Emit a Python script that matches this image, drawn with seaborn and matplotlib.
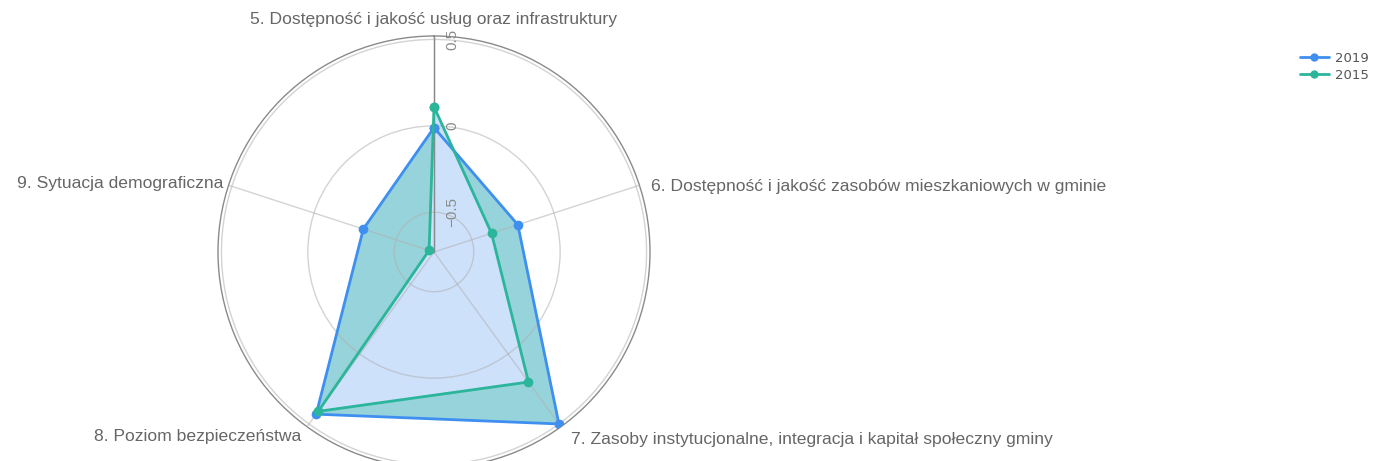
import numpy as np
import matplotlib
matplotlib.use('Agg')
import matplotlib.pyplot as plt
import matplotlib.transforms as mtransforms
from matplotlib.lines import Line2D
import seaborn as sns

# kategorie (zgodnie z ruchem wskazówek zegara od góry)
categories = [
    '5. Dostępność i jakość usług oraz infrastruktury',
    '6. Dostępność i jakość zasobów mieszkaniowych w gminie',
    '7. Zasoby instytucjonalne, integracja i kapitał społeczny gminy',
    '8. Poziom bezpieczeństwa',
    '9. Sytuacja demograficzna',
]
years = ['2019', '2015']
values_2019 = [-0.01, -0.22, 0.50, 0.43, -0.30]
values_2015 = [0.11, -0.38, 0.20, 0.41, -0.70]
radial_ticks = [-0.5, 0, 0.5]
radial_labels = ['\u22120.5', '0', '0.5']
r_min, r_max = -0.73, 0.52

blue = '#3e8ff0'
green = '#2bb59b'
light_blue = '#cde1fb'
teal_fill = '#97d3da'
text_col = '#666666'

sns.set_style('white')
plt.rcParams['font.family'] = ['Liberation Sans', 'DejaVu Sans']

W, H = 1377, 461
fig = plt.figure(figsize=(W / 100, H / 100), dpi=100)
cx, cy, R = 434, 252, 216
ax = fig.add_axes([(cx - R) / W, (H - cy - R) / H, 2 * R / W, 2 * R / H], projection='polar')
ax.set_theta_zero_location('N')
ax.set_theta_direction(-1)
ax.set_axisbelow(False)

n = len(categories)
angles = np.linspace(0, 2 * np.pi, n, endpoint=False)
theta = np.append(angles, 2 * np.pi)
r19 = np.append(values_2019, values_2019[0])
r15 = np.append(values_2015, values_2015[0])

# wypełnienia: obszar 2019 (turkus) i wnętrze 2015 (jasnoniebieski)
ax.fill(theta, r19, color=teal_fill, zorder=1, lw=0)
ax.fill(theta, r15, color=light_blue, zorder=1.5, lw=0)

sns.lineplot(x=theta, y=r19, sort=False, estimator=None, ax=ax, color=blue,
             linewidth=2, marker='o', markersize=7, markeredgewidth=0, zorder=3)
sns.lineplot(x=theta, y=r15, sort=False, estimator=None, ax=ax, color=green,
             linewidth=2, marker='o', markersize=7, markeredgewidth=0, zorder=4)
ax.set_xlabel('')
ax.set_ylabel('')

ax.set_ylim(r_min, r_max)
ax.set_yticks(radial_ticks)
ax.set_yticklabels([])
ax.set_xticks(angles)
ax.set_xticklabels([])
ax.grid(True, color='#b0b0b0', linewidth=1, alpha=0.55)
ax.spines['polar'].set_color('#8a8a8a')
ax.spines['polar'].set_linewidth(1)

# oś promieniowa
ax.plot([0, 0], [r_min, r_max], color='#8a8a8a', lw=1, zorder=2.6)
for val, lab in zip(radial_ticks, radial_labels):
    tr = mtransforms.offset_copy(ax.transData, fig=fig, x=18, y=0, units='dots')
    ax.text(0, val, lab, transform=tr, rotation=90, ha='center', va='center',
            fontsize=11, color='#8a8a8a', zorder=5)

# etykiety kategorii
offsets = [(0, 9, 'center', 'bottom'), (12, -1, 'left', 'center'),
           (10, -13, 'left', 'center'), (-6, -10, 'right', 'center'),
           (-5, 2, 'right', 'center')]
for ang, lab, (dx, dy, ha, va) in zip(angles, categories, offsets):
    tr = mtransforms.offset_copy(ax.transData, fig=fig, x=dx, y=dy, units='dots')
    ax.text(ang, r_max, lab, transform=tr, ha=ha, va=va, fontsize=12.6,
            color=text_col, clip_on=False)

handles = [Line2D([0], [0], color=c, lw=2, marker='o', markersize=6, markeredgewidth=0)
           for c in (blue, green)]
fig.legend(handles, years, loc='upper left', bbox_to_anchor=(1288 / W, 1 - 40 / H),
           frameon=False, handlelength=2.2, handletextpad=0.5, labelspacing=0.3,
           prop={'family': 'DejaVu Sans', 'size': 9.5}, labelcolor='#555555')

fig.savefig('out.png', dpi=100)
